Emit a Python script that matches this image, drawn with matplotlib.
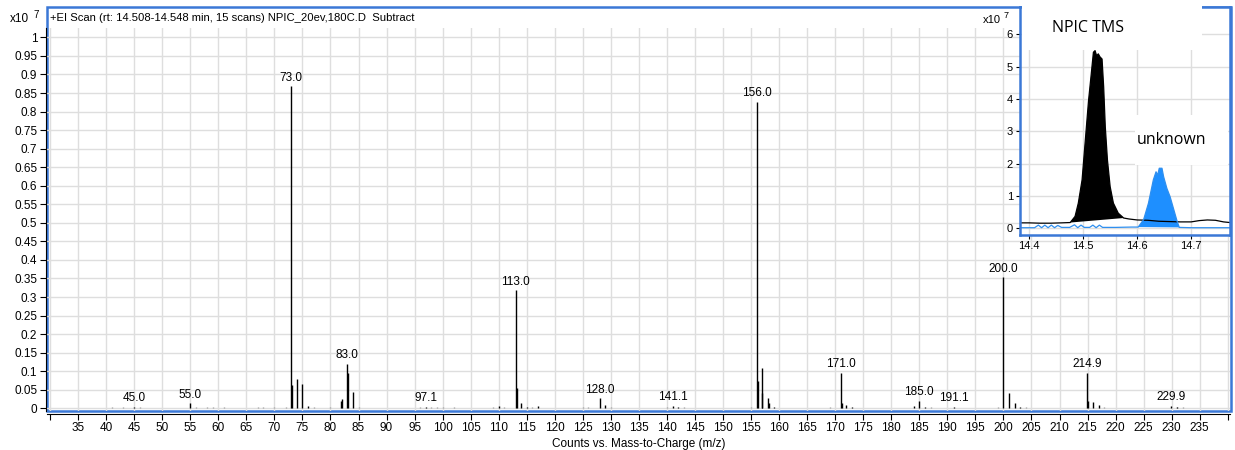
import numpy as np
import matplotlib.pyplot as plt
from matplotlib.patches import Rectangle

plt.rcParams['font.family'] = ['Liberation Sans', 'DejaVu Sans']

W, H = 1235, 450

# mass spectrum, counts in units of 1e7
peak_mz = [45.0, 55.0, 73.0, 73.2, 74.0, 75.0, 76.0, 81.9, 82.0, 83.0, 83.2, 84.0,
           97.1, 110.0, 113.0, 113.2, 114.0, 115.0, 117.0, 128.0, 129.0, 141.1, 142.0,
           156.0, 156.2, 156.9, 157.0, 158.0, 158.2, 159.0, 171.0, 171.2, 172.0, 173.0,
           184.0, 185.0, 186.0, 191.1, 200.0, 201.0, 202.0, 203.0, 214.9, 215.1, 216.0,
           217.0, 229.9, 231.0]
peak_counts = [0.004, 0.013, 0.868, 0.063, 0.079, 0.066, 0.005, 0.020, 0.024, 0.120, 0.095, 0.043,
               0.004, 0.005, 0.318, 0.054, 0.014, 0.004, 0.006, 0.027, 0.008, 0.006, 0.004,
               0.827, 0.074, 0.040, 0.108, 0.027, 0.015, 0.003, 0.095, 0.015, 0.010, 0.004,
               0.007, 0.020, 0.004, 0.003, 0.353, 0.042, 0.015, 0.004, 0.095, 0.020, 0.016,
               0.010, 0.006, 0.004]

labels_mz = [45.0, 55.0, 73.0, 83.0, 97.1, 113.0, 128.0, 141.1, 156.0, 171.0, 185.0,
             191.1, 200.0, 214.9, 229.9]

noise_mz = [40.5, 41, 42, 43, 44, 46, 47, 51, 53, 56, 57, 58, 59, 61, 67, 68, 69, 70, 71,
            72, 77, 78, 79, 80, 85, 86, 88, 90, 92, 95, 96, 98, 99, 100, 101, 102, 103,
            104, 105, 109, 111, 112, 116, 118, 119, 124, 125, 126, 127, 130, 131, 139, 140,
            143, 144, 148, 152, 154, 155, 160, 168, 169, 170, 174, 183, 187, 188, 190, 192,
            193, 198, 199, 204, 205, 208, 218, 219, 220, 228, 231, 232, 233, 234]
noise_counts = [0.002, 0.003, 0.002, 0.003, 0.002, 0.003, 0.002, 0.002, 0.002, 0.003, 0.002,
                0.003, 0.004, 0.003, 0.003, 0.003, 0.002, 0.003, 0.002, 0.003, 0.004, 0.002,
                0.002, 0.003, 0.003, 0.002, 0.002, 0.002, 0.002, 0.002, 0.003, 0.003, 0.003,
                0.003, 0.002, 0.003, 0.002, 0.002, 0.002, 0.003, 0.003, 0.002, 0.003, 0.002,
                0.002, 0.002, 0.003, 0.003, 0.002, 0.003, 0.002, 0.002, 0.003, 0.003, 0.002,
                0.002, 0.002, 0.002, 0.003, 0.002, 0.002, 0.003, 0.002, 0.002, 0.002, 0.003,
                0.002, 0.002, 0.002, 0.002, 0.002, 0.003, 0.003, 0.002, 0.002, 0.003, 0.002,
                0.002, 0.002, 0.003, 0.003, 0.002, 0.002]

# chromatogram inset, retention time (min) and counts (1e7)
black_t = [14.383, 14.40, 14.42, 14.44, 14.46, 14.476, 14.485, 14.491, 14.498, 14.504,
           14.510, 14.515, 14.519, 14.522, 14.525, 14.528, 14.531, 14.535, 14.538, 14.541,
           14.545, 14.550, 14.556, 14.565, 14.575, 14.585, 14.60, 14.62, 14.64, 14.66,
           14.68, 14.70, 14.715, 14.73, 14.745, 14.76, 14.772]
black_y = [0.17, 0.17, 0.16, 0.16, 0.17, 0.18, 0.37, 0.78, 1.5, 2.73, 3.96, 4.78, 5.45,
           5.5, 5.34, 5.4, 5.31, 5.24, 4.37, 3.14, 2.11, 1.29, 0.78, 0.47, 0.32, 0.29,
           0.26, 0.25, 0.22, 0.21, 0.2, 0.2, 0.24, 0.26, 0.25, 0.2, 0.18]
black_peak = (5, 25)

blue_t = [14.383, 14.41, 14.417, 14.423, 14.429, 14.435, 14.441, 14.447, 14.453, 14.46,
          14.475, 14.484, 14.49, 14.496, 14.502, 14.512, 14.518, 14.524, 14.53, 14.536,
          14.56, 14.59, 14.602, 14.612, 14.621, 14.630, 14.635, 14.638, 14.641, 14.646,
          14.649, 14.655, 14.661, 14.667, 14.674, 14.678, 14.70, 14.772]
blue_y = [0.02, 0.02, 0.1, 0.02, 0.1, 0.02, 0.1, 0.02, 0.09, 0.03, 0.03, 0.11, 0.02, 0.1,
          0.03, 0.03, 0.1, 0.02, 0.1, 0.03, 0.03, 0.04, 0.04, 0.27, 0.78, 1.5, 1.75, 1.65,
          1.86, 1.86, 1.6, 1.24, 0.98, 0.63, 0.22, 0.03, 0.02, 0.02]
blue_peak = (22, 36)


def box(x0, y0, x1, y1):
    # pixel box (top-left origin) -> figure fraction rect
    return [x0 / W, 1 - y1 / H, (x1 - x0) / W, (y1 - y0) / H]


fig = plt.figure(figsize=(W / 100, H / 100), dpi=100)
grid_c = '#dedede'
frame_c = '#3b78d6'

# outer blue frame, drawn under the axes so the inset can sit on top of it
fig.patches.append(Rectangle((46.5 / W, 1 - 410.5 / H), 1184 / W, 403.5 / H,
                             transform=fig.transFigure, fill=False, ec=frame_c, lw=1.8,
                             zorder=-1))

ax = fig.add_axes(box(47, 28, 1230, 411))
ax.patch.set_alpha(0)
ax.set_xlim(29.45, 240.4)
ax.set_ylim(-0.0073, 1.0253)
ax.set_xticks(np.arange(30, 241, 5))
ax.set_xticklabels(['' if v in (30, 240) else str(v) for v in range(30, 241, 5)])
yt = np.arange(0, 1.0001, 0.05)
ax.set_yticks(yt)
ax.set_yticklabels(['%g' % round(v, 2) for v in yt])
ax.tick_params(labelsize=8.5, length=4, width=0.8, pad=2)
ax.grid(True, color=grid_c, lw=1)
ax.set_axisbelow(True)
for s in ['top', 'right']:
    ax.spines[s].set_visible(False)
ax.spines['bottom'].set_position(('outward', 2))
ax.spines['left'].set_position(('outward', 1))

ax.vlines(noise_mz, 0, noise_counts, color='#9a9a9a', lw=1)
ax.vlines(peak_mz, 0, peak_counts, color='black', lw=1.0)
for m in labels_mz:
    h = peak_counts[peak_mz.index(m)]
    ax.annotate('%.1f' % m, (m, h), xytext=(0, 2), textcoords='offset points',
                ha='center', va='bottom', fontsize=8.5)
ax.set_xlabel('Counts vs. Mass-to-Charge (m/z)', fontsize=8.5, labelpad=3)

fig.text(50 / W, 1 - 18 / H, '+EI Scan (rt: 14.508-14.548 min, 15 scans) NPIC_20ev,180C.D  Subtract',
         fontsize=8.1, va='center')
fig.text(10 / W, 1 - 19 / H, 'x10', fontsize=8.5, va='center')
fig.text(33 / W, 1 - 15 / H, '7', fontsize=7, va='center')

# inset chromatogram
ins = fig.add_axes(box(1020, 7, 1230, 234.5))
ins.set_facecolor('white')
ins.set_xlim(14.383, 14.772)
ins.set_ylim(-0.19, 6.85)
ins.set_xticks([14.4, 14.5, 14.6, 14.7])
ins.set_yticks(range(7))
ins.tick_params(labelsize=8, length=3, width=0.8, pad=2)
ins.grid(True, color=grid_c, lw=1)
ins.set_axisbelow(True)
for s in ins.spines.values():
    s.set_color(frame_c)
    s.set_linewidth(1.8)

i0, i1 = black_peak
ins.fill(black_t[i0:i1], black_y[i0:i1], color='black', lw=0)
ins.plot(black_t, black_y, color='black', lw=0.9)
j0, j1 = blue_peak
ins.fill(blue_t[j0:j1], blue_y[j0:j1], color='#1e8fff', lw=0)
ins.plot(blue_t, blue_y, color='#2f8fef', lw=0.9)

# white label boxes (the top one hides the frame line)
ins.add_patch(Rectangle((14.387, 5.52), 0.333, 1.45, fc='white', ec='none',
                        zorder=3, clip_on=False))
ins.add_patch(Rectangle((14.596, 1.96), 0.172, 1.55, fc='white', ec='none', zorder=3))
ins.text(14.509, 6.2, 'NPIC TMS', family=['Open Sans', 'DejaVu Sans'], fontsize=11.5,
         ha='center', va='center', zorder=4)
ins.text(14.664, 2.73, 'unknown', family=['Open Sans', 'DejaVu Sans'], fontsize=11.5,
         ha='center', va='center', zorder=4)
fig.text(983 / W, 1 - 20 / H, 'x10', fontsize=8, va='center')
fig.text(1004 / W, 1 - 16 / H, '7', fontsize=6.5, va='center')

fig.savefig('out.png', dpi=100)
